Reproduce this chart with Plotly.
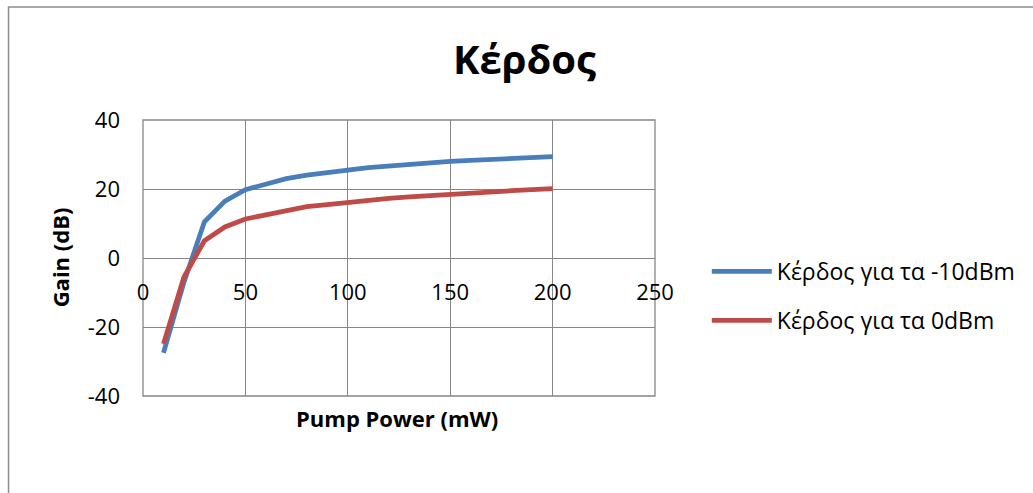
import plotly.graph_objects as go

# Pump power sweep (mW) and measured gain (dB) for two input signal levels
pump_power = [10, 20, 30, 40, 50, 60, 70, 80, 90, 100,
              110, 120, 130, 140, 150, 160, 170, 180, 190, 200]
gain_m10dbm = [-27.5, -7.0, 10.5, 16.5, 19.8, 21.5, 23.0, 24.0, 24.9, 25.5,
               26.2, 26.7, 27.1, 27.6, 28.0, 28.3, 28.6, 28.9, 29.1, 29.4]
gain_0dbm = [-24.9, -5.5, 5.0, 9.0, 11.3, 12.6, 13.8, 14.9, 15.5, 16.2,
             16.8, 17.3, 17.7, 18.1, 18.6, 18.9, 19.2, 19.5, 19.8, 20.1]

series_names = ["Κέρδος για τα -10dBm", "Κέρδος για τα 0dBm"]
series_colors = ["#4A7EBB", "#BE4B48"]

x_ticks = [0, 50, 100, 150, 200, 250]
y_ticks = [-40, -20, 0, 20, 40]

W, H = 1033, 493
L, R, T, B = 143, 657, 120, 396  # plot-area edges in pixels

FONT = "Open Sans"
GRID = "#878787"


def px_x(p):
    return (p - L) / (R - L)


def px_y(p):
    return (B - p) / (B - T)


fig = go.Figure()
for i, (name, ys) in enumerate(zip(series_names, [gain_m10dbm, gain_0dbm])):
    fig.add_trace(go.Scatter(
        x=pump_power, y=ys, mode="lines", name=name,
        legendgroup=f"g{i}",
        line=dict(color=series_colors[i], width=4.8),
    ))

fig.update_layout(
    width=W, height=H,
    margin=dict(l=L, r=W - R, t=T, b=H - B, pad=0),
    paper_bgcolor="white", plot_bgcolor="white",
    font=dict(family=FONT, size=22, color="black"),
    showlegend=True,
    legend=dict(
        x=px_x(709), y=px_y(250), xanchor="left", yanchor="top",
        font=dict(family=FONT, size=23, color="black"),
        tracegroupgap=16, itemwidth=60,
        bgcolor="rgba(0,0,0,0)",
    ),
    xaxis=dict(
        range=[0, 250], tickvals=x_ticks, ticktext=[str(v) for v in x_ticks],
        anchor="free", position=0.5,
        showgrid=True, gridcolor=GRID, gridwidth=1.3,
        zeroline=False, showline=False, ticks="",
        ticklabelstandoff=19,
        tickfont=dict(family=FONT, size=22, color="black"),
    ),
    yaxis=dict(
        range=[-40, 40], tickvals=y_ticks, ticktext=[str(v) for v in y_ticks],
        showgrid=True, gridcolor=GRID, gridwidth=1.3,
        zeroline=False, showline=False, ticks="",
        ticklabelstandoff=22,
        tickfont=dict(family=FONT, size=22, color="black"),
    ),
    shapes=[
        # plot-area frame
        dict(type="rect", xref="paper", yref="paper", x0=0, x1=1, y0=0, y1=1,
             line=dict(color=GRID, width=1.3), layer="below"),
        # chart-area frame
        dict(type="rect", xref="paper", yref="paper",
             x0=px_x(8), x1=px_x(1045), y0=px_y(505), y1=px_y(7),
             line=dict(color="#8c8c8c", width=1.5)),
    ],
    annotations=[
        dict(text="<b>Κέρδος</b>", xref="paper", yref="paper",
             x=px_x(526), y=px_y(59), xanchor="center", yanchor="middle",
             showarrow=False, font=dict(family=FONT, size=40, color="black")),
        dict(text="<b>Pump Power (mW)</b>", xref="paper", yref="paper",
             x=px_x(398), y=px_y(418), xanchor="center", yanchor="middle",
             showarrow=False, font=dict(family=FONT, size=22, color="black")),
        dict(text="<b>Gain (dB)</b>", xref="paper", yref="paper",
             x=px_x(60), y=px_y(257), xanchor="center", yanchor="middle",
             textangle=-90,
             showarrow=False, font=dict(family=FONT, size=22, color="black")),
    ],
)

fig.write_html("out.html")
